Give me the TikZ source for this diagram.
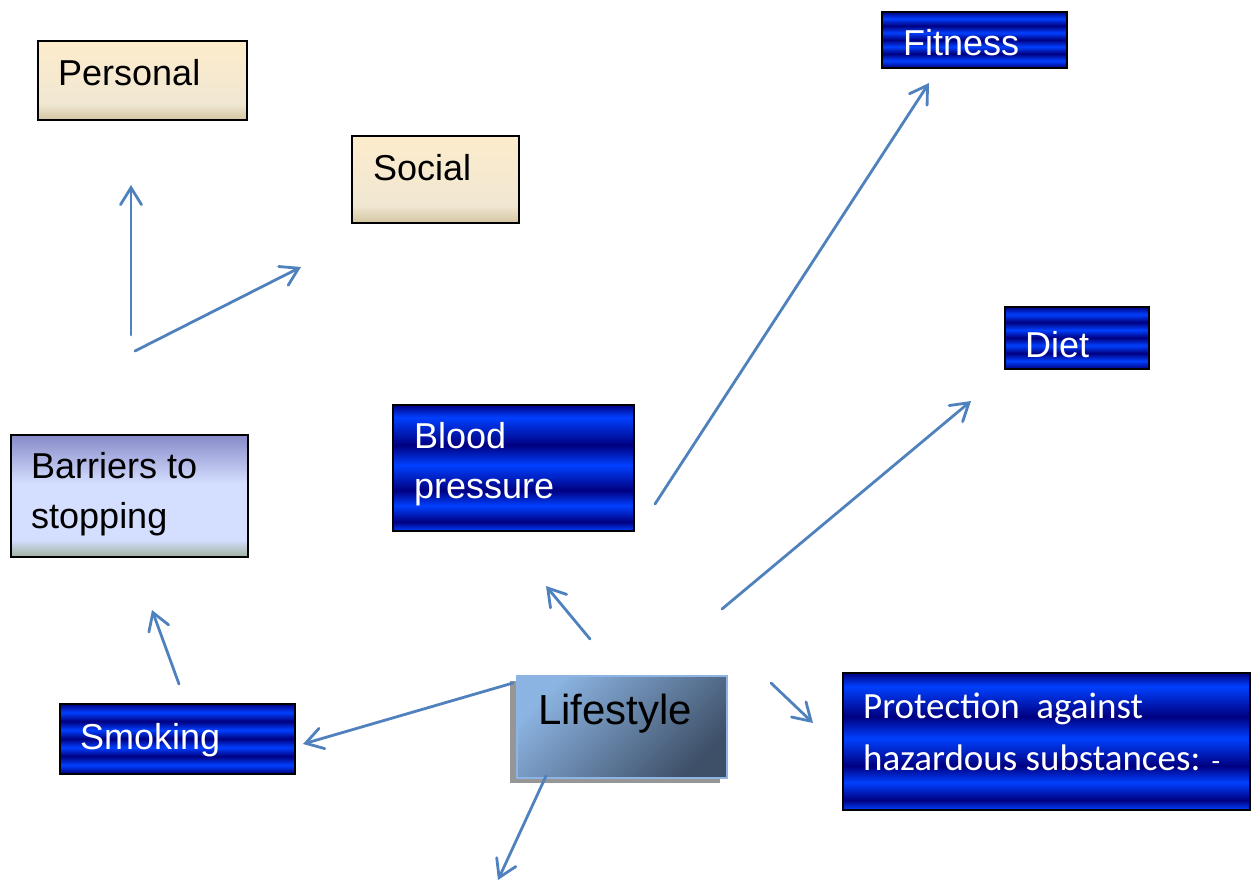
\documentclass[tikz,border=0pt]{standalone}
\usepackage{fontspec}
\setmainfont{Liberation Sans}
\newfontfamily\calibrifont{Carlito}
\usetikzlibrary{arrows.meta}
\definecolor{arrowc}{RGB}{79,129,189}
\definecolor{bandB}{RGB}{0,64,255}
\definecolor{bandD}{RGB}{0,0,128}
\definecolor{beigeT}{RGB}{253,236,204}
\definecolor{beigeM}{RGB}{240,231,210}
\definecolor{beigeB}{RGB}{212,198,162}
\definecolor{barT}{RGB}{135,138,200}
\definecolor{barM}{RGB}{212,222,255}
\definecolor{barB}{RGB}{160,178,160}
\definecolor{lifeL}{RGB}{140,180,226}
\definecolor{lifeD}{RGB}{62,80,104}
\definecolor{lifeBorder}{RGB}{142,180,227}
\definecolor{shadowc}{RGB}{150,150,150}
\pgfdeclareverticalshading{bandsA}{100bp}{color(0bp)=(bandB); color(25bp)=(bandB); color(28.5bp)=(bandD); color(35bp)=(bandB); color(41bp)=(bandD); color(51bp)=(bandB); color(59bp)=(bandD); color(70bp)=(bandB); color(75bp)=(bandD); color(100bp)=(bandD)}
\pgfdeclareverticalshading{bandsB}{100bp}{color(0bp)=(bandD); color(25bp)=(bandD); color(31.25bp)=(bandB); color(37.5bp)=(bandD); color(43.75bp)=(bandB); color(50bp)=(bandD); color(56.25bp)=(bandB); color(62.5bp)=(bandD); color(68.75bp)=(bandB); color(75bp)=(bandD); color(100bp)=(bandD)}
\pgfdeclareverticalshading{beigesh}{100bp}{color(0bp)=(beigeB); color(25bp)=(beigeB); color(35bp)=(beigeM); color(75bp)=(beigeT); color(100bp)=(beigeT)}
\pgfdeclareverticalshading{barsh}{100bp}{color(0bp)=(barB); color(25bp)=(barB); color(32bp)=(barM); color(55bp)=(barM); color(75bp)=(barT); color(100bp)=(barT)}
\tikzset{
  bx/.style={rectangle, draw=black, line width=1.5pt, anchor=north west, inner sep=0pt},
  wt/.style={inner sep=0pt, anchor=base west, text=white, font=\fontsize{36}{43}\selectfont},
  bt/.style={inner sep=0pt, anchor=base west, text=black, font=\fontsize{36}{43}\selectfont},
  pt/.style={inner sep=0pt, anchor=base west, text=white, font=\calibrifont\fontsize{37}{44}\selectfont},
  arr/.style={draw=arrowc, line width=2.8pt, line cap=round, -{Straight Barb[length=17pt,width=21pt,line cap=round]}}
}
\begin{document}
\begin{tikzpicture}[x=1pt,y=-1pt]
\useasboundingbox (0,0) rectangle (1258,884);
% boxes
\node[bx, shading=beigesh, minimum width=209pt, minimum height=79pt] (personal) at (37,40) {};
\node[bt] (personaltxt) at (58,85) {Personal};
\node[bx, shading=beigesh, minimum width=167pt, minimum height=87pt] (social) at (351,135) {};
\node[bt] (socialtxt) at (373,180) {Social};
\node[bx, shading=bandsB, minimum width=185pt, minimum height=56pt] (fitness) at (881,11) {};
\node[wt] (fitnesstxt) at (903,55) {Fitness};
\node[bx, shading=bandsB, minimum width=144pt, minimum height=62pt] (diet) at (1004,306) {};
\node[wt] (diettxt) at (1025,357) {Diet};
\node[bx, shading=bandsA, minimum width=241pt, minimum height=126pt] (blood) at (392,404) {};
\node[wt] (bloodtxtA) at (414,448) {Blood};
\node[wt] (bloodtxtB) at (414,498) {pressure};
\node[bx, shading=barsh, minimum width=237pt, minimum height=122pt] (barriers) at (10,434) {};
\node[bt] (barrierstxtA) at (31,478) {Barriers to};
\node[bt] (barrierstxtB) at (31,528) {stopping};
\node[bx, shading=bandsB, minimum width=235pt, minimum height=70pt] (smoking) at (59,703) {};
\node[wt] (smokingtxt) at (80,749) {Smoking};
\node[bx, shading=bandsA, minimum width=407pt, minimum height=137pt] (protection) at (842,672) {};
\node[pt] (protectiontxtA) at (863,718) {Protection\ \ against};
\node[pt] (protectiontxtB) at (863,770) {hazardous substances: {\fontsize{28}{30}\selectfont -}};
% lifestyle with shadow
\node[rectangle, fill=shadowc, anchor=north west, inner sep=0pt, minimum width=210pt, minimum height=102pt] (lifeshadow) at (510,681) {};
\node[rectangle, draw=lifeBorder, line width=1.5pt, anchor=north west, inner sep=0pt, minimum width=210pt, minimum height=102pt, top color=lifeL, bottom color=lifeD, shading angle=45] (lifestyle) at (516,675) {};
\node[inner sep=0pt, anchor=base west, font=\fontsize{42}{50}\selectfont] (lifestyletxt) at (538,724) {Lifestyle};
% arrow end points
\coordinate (a1s) at (131,335); \coordinate (a1e) at (131,185);
\coordinate (a2s) at (135,351); \coordinate (a2e) at (301,267);
\coordinate (a3s) at (179,684); \coordinate (a3e) at (152,610);
\coordinate (a4s) at (513,683); \coordinate (a4e) at (303,744);
\coordinate (a5s) at (590,639); \coordinate (a5e) at (546,586);
\coordinate (a6s) at (655,504); \coordinate (a6e) at (929,83);
\coordinate (a7s) at (722,609); \coordinate (a7e) at (971,401);
\coordinate (a8s) at (771,683); \coordinate (a8e) at (813,723);
\coordinate (a9s) at (546,776); \coordinate (a9e) at (498,880);
\draw[arr] (a1s) -- (a1e);
\draw[arr] (a2s) -- (a2e);
\draw[arr] (a3s) -- (a3e);
\draw[arr] (a4s) -- (a4e);
\draw[arr] (a5s) -- (a5e);
\draw[arr] (a6s) -- (a6e);
\draw[arr] (a7s) -- (a7e);
\draw[arr] (a8s) -- (a8e);
\draw[arr] (a9s) -- (a9e);
\end{tikzpicture}
\end{document}
